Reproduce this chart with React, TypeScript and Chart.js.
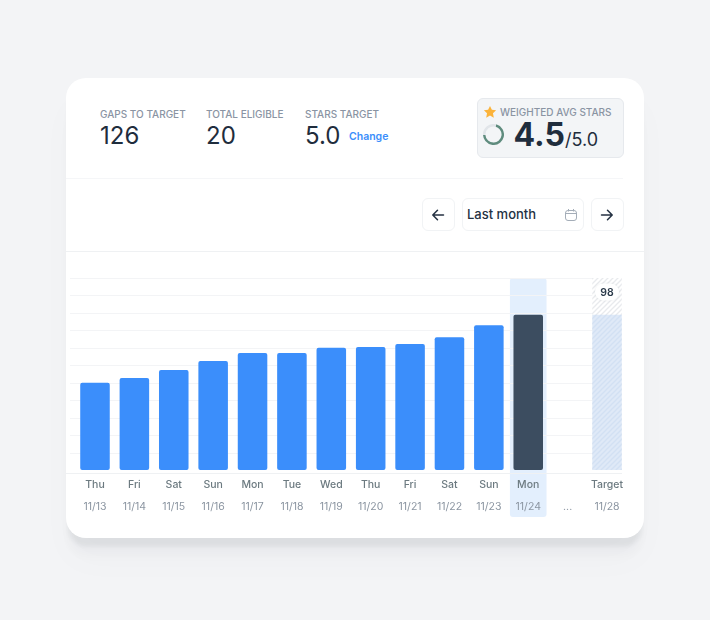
import React from 'react'
import { Chart, registerables } from 'chart.js'

Chart.register(...registerables)

const days = ['Thu', 'Fri', 'Sat', 'Sun', 'Mon', 'Tue', 'Wed', 'Thu', 'Fri', 'Sat', 'Sun', 'Mon', '', 'Target']
const dates = ['11/13', '11/14', '11/15', '11/16', '11/17', '11/18', '11/19', '11/20', '11/21', '11/22', '11/23', '11/24', '...', '11/28']
const stars = [50, 52.7, 57.3, 62.5, 67, 67, 70, 70.5, 72.2, 76, 83, 89, null, 89]
const targetCeiling = [null, null, null, null, null, null, null, null, null, null, null, null, null, 110]
const gridValues = [10, 20, 30, 40, 50, 60, 70, 80, 90, 100, 110]
const targetLabel = '98'
const targetLabelValue = 102
const ringValues = [3.5, 1.5]

const FONT = 'Inter, sans-serif'
const TODAY = 11
const TARGET = 13

const hatch = (bg: string, stripe: string) => {
  const c = document.createElement('canvas')
  c.width = 5
  c.height = 5
  const g = c.getContext('2d')!
  g.fillStyle = bg
  g.fillRect(0, 0, 5, 5)
  g.strokeStyle = stripe
  g.lineWidth = 1.3
  g.beginPath()
  g.moveTo(-1, 6)
  g.lineTo(6, -1)
  g.moveTo(-1, 1)
  g.lineTo(1, -1)
  g.moveTo(4, 6)
  g.lineTo(6, 4)
  g.stroke()
  return g.createPattern(c, 'repeat')!
}

const roundRect = (g: CanvasRenderingContext2D, x: number, y: number, w: number, h: number, r: number) => {
  g.beginPath()
  g.roundRect(x, y, w, h, r)
  g.fill()
}

const decorations = {
  id: 'decorations',
  beforeDraw(chart: any) {
    const g = chart.ctx
    const { x, y } = chart.scales
    const cx = x.getPixelForValue(TODAY)
    g.save()
    g.fillStyle = '#e3effd'
    roundRect(g, cx - 18.3, y.getPixelForValue(110), 36.6, 239, 3)
    g.restore()
  },
  beforeDatasetsDraw(chart: any) {
    const g = chart.ctx
    const { y } = chart.scales
    g.save()
    g.strokeStyle = '#f3f4f6'
    g.lineWidth = 1
    gridValues.forEach((v) => {
      const py = Math.round(y.getPixelForValue(v)) + 0.5
      g.beginPath()
      g.moveTo(4, py)
      g.lineTo(556, py)
      g.stroke()
    })
    g.strokeStyle = '#eff1f3'
    const base = Math.round(y.getPixelForValue(0)) + 3.5
    g.beginPath()
    g.moveTo(0, base)
    g.lineTo(556, base)
    g.stroke()
    g.restore()
  },
  afterDatasetsDraw(chart: any) {
    const g = chart.ctx
    const { x, y } = chart.scales
    const cx = x.getPixelForValue(TARGET)
    const cy = y.getPixelForValue(targetLabelValue)
    g.save()
    g.shadowColor = 'rgba(30,45,61,0.08)'
    g.shadowBlur = 3
    g.fillStyle = '#ffffff'
    roundRect(g, cx - 12, cy - 8.5, 24, 17, 8.5)
    g.restore()
    g.save()
    g.fillStyle = '#2b3a4a'
    g.font = `600 10.5px ${FONT}`
    g.textAlign = 'center'
    g.textBaseline = 'middle'
    g.fillText(targetLabel, cx, cy + 0.5)
    g.restore()
  },
}

const Ring = () => {
  const ref = React.useRef<HTMLCanvasElement | null>(null)
  React.useEffect(() => {
    if (!ref.current) return
    const chart = new Chart(ref.current, {
      type: 'doughnut',
      data: {
        datasets: [
          {
            data: ringValues,
            backgroundColor: ['#5f8c7e', '#e1e5e9'],
            borderWidth: 0,
          },
        ],
      },
      options: {
        responsive: false,
        animation: false,
        cutout: '77%',
        rotation: 15,
        plugins: { legend: { display: false }, tooltip: { enabled: false } },
      },
    })
    return () => chart.destroy()
  }, [])
  return <canvas ref={ref} width={21} height={21} style={{ position: 'absolute', left: 4.7, top: 25.3, width: 21, height: 21 }} />
}

const Bars = () => {
  const ref = React.useRef<HTMLCanvasElement | null>(null)
  React.useEffect(() => {
    if (!ref.current) return
    const filled = hatch('#dfe9f7', '#d2e0f3')
    const empty = hatch('#ffffff', '#e8eaed')
    const chart = new Chart(ref.current, {
      type: 'bar',
      data: {
        labels: days,
        datasets: [
          {
            data: stars,
            order: 1,
            backgroundColor: (c: any) => (c.dataIndex === TARGET ? filled : c.dataIndex === TODAY ? '#3c4d60' : '#3b8efb'),
            borderRadius: (c: any) => (c.dataIndex === TARGET ? 0 : 2),
            borderSkipped: false,
          },
          {
            data: targetCeiling,
            order: 2,
            backgroundColor: empty,
          },
        ],
      },
      options: {
        responsive: false,
        animation: false,
        layout: { padding: { left: 9.3, right: 17.3, top: 8, bottom: 0 } },
        datasets: { bar: { grouped: false, categoryPercentage: 1, barPercentage: 0.75 } },
        scales: {
          x: {
            position: 'bottom',
            grid: { display: false },
            border: { display: false },
            ticks: { color: '#6c7a80', font: { family: FONT, size: 10.5, weight: 500 }, padding: 1, autoSkip: false, maxRotation: 0 },
            afterFit: (s: any) => {
              s.height = 20
            },
          },
          x2: {
            type: 'category',
            labels: dates,
            position: 'bottom',
            grid: { display: false },
            border: { display: false },
            ticks: { color: '#8b95a1', font: { family: FONT, size: 10.5 }, padding: 3, autoSkip: false, maxRotation: 0 },
            afterFit: (s: any) => {
              s.height = 40
            },
          },
          y: { display: false, min: 0, max: 110 },
        },
        plugins: { legend: { display: false }, tooltip: { enabled: false } },
      },
      plugins: [decorations],
    } as any)
    return () => chart.destroy()
  }, [])
  return <canvas ref={ref} width={578} height={260} style={{ position: 'absolute', left: 0, top: 192, width: 578, height: 260 }} />
}

const Stat = ({ left, label, value }: { left: number; label: string; value: string }) => (
  <>
    <div style={{ position: 'absolute', left, top: 30, fontSize: 10, fontWeight: 500, lineHeight: '13px', color: '#8a94a3', whiteSpace: 'nowrap' }}>{label}</div>
    <div style={{ position: 'absolute', left, top: 43, fontSize: 24, lineHeight: '30px', color: '#1f2d3d', whiteSpace: 'nowrap' }}>{value}</div>
  </>
)

const Arrow = ({ flip }: { flip?: boolean }) => (
  <svg width="14" height="14" viewBox="0 0 14 14" style={{ transform: flip ? 'scaleX(-1)' : undefined, marginLeft: flip ? -2 : -1 }}>
    <path d="M12.5 7H2M6.5 2.2L1.8 7l4.7 4.8" fill="none" stroke="#243142" strokeWidth="1.5" strokeLinecap="round" strokeLinejoin="round" />
  </svg>
)

const boxStyle: React.CSSProperties = {
  position: 'absolute',
  top: 120,
  height: 33,
  boxSizing: 'border-box',
  border: '1px solid #f1f3f5',
  borderRadius: 6,
  display: 'flex',
  alignItems: 'center',
  justifyContent: 'center',
}

const App = () => (
  <div style={{ position: 'fixed', left: 0, top: 0, width: 710, height: 620, background: '#f3f4f6', fontFamily: FONT, overflow: 'hidden' }}>
    <div
      style={{
        position: 'absolute',
        left: 66,
        top: 78,
        width: 578,
        height: 460,
        background: '#fff',
        borderRadius: 20,
        boxShadow: '0 10px 4px -2px rgba(40,45,55,0.06), 0 20px 12px -4px rgba(40,45,55,0.03), 0 24px 36px 0 rgba(40,45,55,0.02)',
      }}
    >
      <Stat left={34} label="GAPS TO TARGET" value="126" />
      <Stat left={140} label="TOTAL ELIGIBLE" value="20" />
      <Stat left={239} label="STARS TARGET" value="5.0" />
      <div style={{ position: 'absolute', left: 283, top: 52, fontSize: 10.5, fontWeight: 600, lineHeight: '13px', color: '#3b8efb' }}>Change</div>

      <div style={{ position: 'absolute', left: 411, top: 20, width: 146.5, height: 60, boxSizing: 'border-box', background: '#f3f5f7', border: '1px solid #e6e9ed', borderRadius: 6 }}>
        <svg width="14" height="14" viewBox="0 0 24 24" style={{ position: 'absolute', left: 5, top: 6 }}>
          <path d="M12 1.500l3.200 6.800 7.300.9-5.400 5.100 1.400 7.400-6.500-3.600-6.500 3.600 1.400-7.400L1.500 9.200l7.300-.9z" fill="#fbb33a" />
        </svg>
        <div style={{ position: 'absolute', left: 22, top: 7, fontSize: 10, fontWeight: 500, lineHeight: '13px', color: '#8a94a3', whiteSpace: 'nowrap' }}>WEIGHTED AVG STARS</div>
        <Ring />
        <div style={{ position: 'absolute', left: 35.5, top: 16, color: '#1f2d3d', whiteSpace: 'nowrap', lineHeight: '40px' }}>
          <span style={{ fontSize: 32, fontWeight: 700 }}>4.5</span>
          <span style={{ fontSize: 18 }}>/5.0</span>
        </div>
      </div>

      <div style={{ position: 'absolute', left: 0, right: 21, top: 99.5, height: 1, background: '#f5f6f8' }} />

      <div style={{ ...boxStyle, left: 356, width: 33 }}>
        <Arrow />
      </div>
      <div style={{ ...boxStyle, left: 396, width: 122, justifyContent: 'flex-start', paddingLeft: 4, paddingBottom: 2, fontSize: 13, fontWeight: 500, color: '#243142' }}>
        Last month
        <svg width="14" height="14" viewBox="0 0 14 14" style={{ position: 'absolute', left: 101, top: 8.5 }}>
          <rect x="1.500" y="2.500" width="11" height="10" rx="2.500" fill="none" stroke="#a4adb8" strokeWidth="1" />
          <path d="M1.500 5.500h11M4.500 1v2.500M9.500 1v2.500" fill="none" stroke="#a4adb8" strokeWidth="1" />
        </svg>
      </div>
      <div style={{ ...boxStyle, left: 525, width: 33 }}>
        <Arrow flip />
      </div>

      <div style={{ position: 'absolute', left: 0, right: 0, top: 173, height: 1, background: '#eff1f3' }} />
      <Bars />
    </div>
  </div>
)

export default App
